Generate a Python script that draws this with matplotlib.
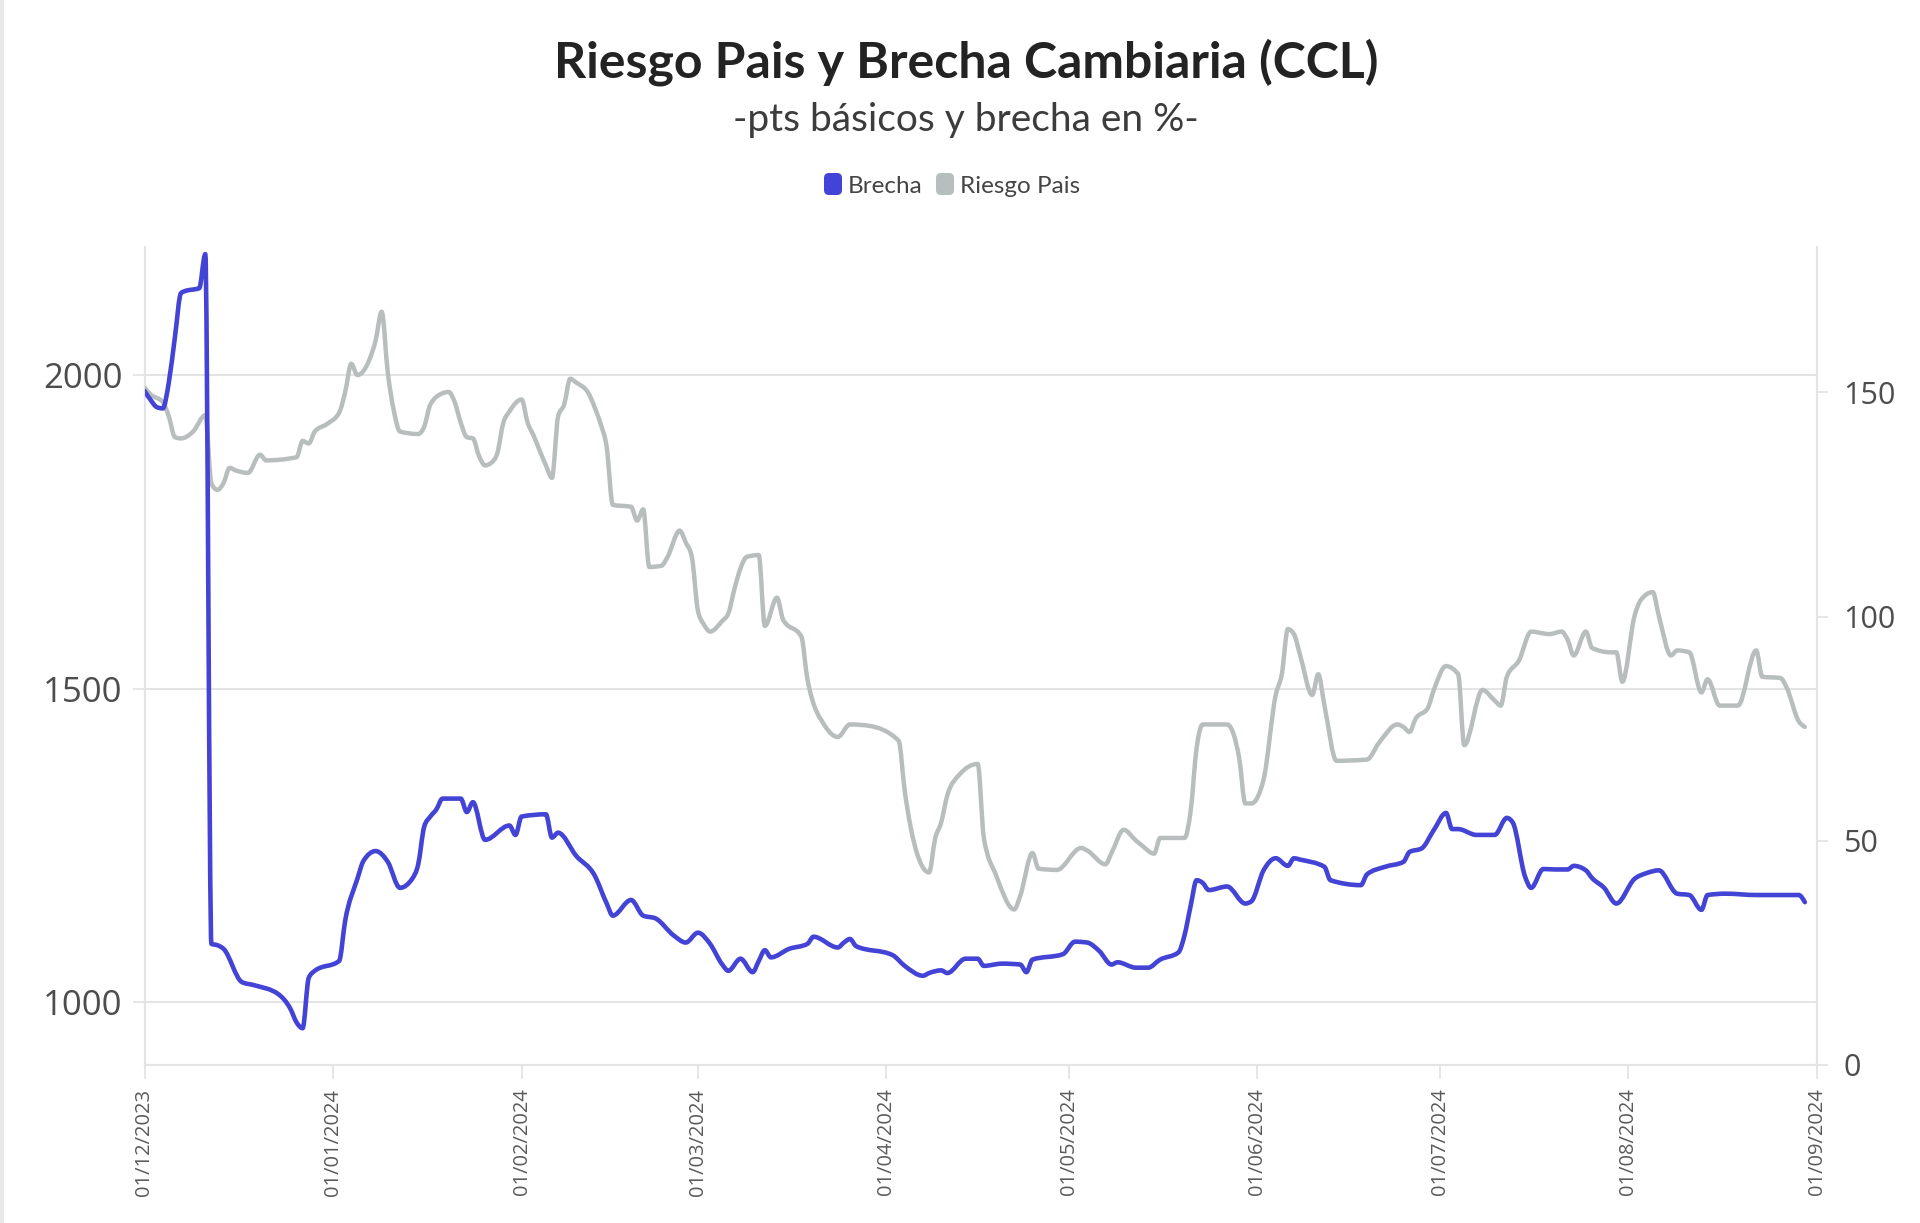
import matplotlib
matplotlib.use('Agg')
import matplotlib.pyplot as plt
import matplotlib.dates as mdates
from matplotlib.patches import FancyBboxPatch, PathPatch
from matplotlib.path import Path
import numpy as np
import pandas as pd

# ---------------- DATA ----------------
titulo = 'Riesgo Pais y Brecha Cambiaria (CCL)'
subtitulo = '-pts básicos y brecha en %-'
series_nombres = ['Brecha', 'Riesgo Pais']

riesgo_fechas = [
    '2023-12-01', '2023-12-02', '2023-12-04', '2023-12-05', '2023-12-06', '2023-12-07', '2023-12-09',
    '2023-12-11', '2023-12-12', '2023-12-13', '2023-12-14', '2023-12-15', '2023-12-16', '2023-12-18',
    '2023-12-20', '2023-12-21', '2023-12-26', '2023-12-27', '2023-12-28', '2023-12-29', '2023-12-31',
    '2024-01-02', '2024-01-03', '2024-01-04', '2024-01-05', '2024-01-07', '2024-01-08', '2024-01-09',
    '2024-01-10', '2024-01-11', '2024-01-12', '2024-01-15', '2024-01-16', '2024-01-17', '2024-01-19',
    '2024-01-20', '2024-01-21', '2024-01-22', '2024-01-23', '2024-01-24', '2024-01-25', '2024-01-26',
    '2024-01-27', '2024-01-28', '2024-01-29', '2024-01-30', '2024-02-01', '2024-02-02', '2024-02-03',
    '2024-02-04', '2024-02-05', '2024-02-06', '2024-02-07', '2024-02-08', '2024-02-09', '2024-02-10',
    '2024-02-12', '2024-02-13', '2024-02-14', '2024-02-15', '2024-02-16', '2024-02-19', '2024-02-20',
    '2024-02-21', '2024-02-22', '2024-02-24', '2024-02-25', '2024-02-27', '2024-02-28', '2024-02-29',
    '2024-03-01', '2024-03-02', '2024-03-03', '2024-03-05', '2024-03-06', '2024-03-07', '2024-03-08',
    '2024-03-09', '2024-03-11', '2024-03-12', '2024-03-14', '2024-03-15', '2024-03-18', '2024-03-19',
    '2024-03-22', '2024-03-24', '2024-03-26', '2024-03-29', '2024-04-03', '2024-04-04', '2024-04-06',
    '2024-04-08', '2024-04-09', '2024-04-10', '2024-04-11', '2024-04-13', '2024-04-16', '2024-04-17',
    '2024-04-19', '2024-04-22', '2024-04-23', '2024-04-25', '2024-04-26', '2024-04-29', '2024-05-03',
    '2024-05-04', '2024-05-07', '2024-05-08', '2024-05-10', '2024-05-12', '2024-05-13', '2024-05-15',
    '2024-05-16', '2024-05-20', '2024-05-21', '2024-05-22', '2024-05-23', '2024-05-27', '2024-05-29',
    '2024-05-30', '2024-05-31', '2024-06-02', '2024-06-04', '2024-06-05', '2024-06-06', '2024-06-07',
    '2024-06-08', '2024-06-10', '2024-06-11', '2024-06-12', '2024-06-14', '2024-06-19', '2024-06-21',
    '2024-06-24', '2024-06-25', '2024-06-26', '2024-06-27', '2024-06-29', '2024-06-30', '2024-07-02',
    '2024-07-04', '2024-07-05', '2024-07-08', '2024-07-10', '2024-07-11', '2024-07-12', '2024-07-14',
    '2024-07-16', '2024-07-19', '2024-07-21', '2024-07-22', '2024-07-23', '2024-07-25', '2024-07-26',
    '2024-07-29', '2024-07-30', '2024-07-31', '2024-08-02', '2024-08-03', '2024-08-05', '2024-08-06',
    '2024-08-08', '2024-08-09', '2024-08-11', '2024-08-13', '2024-08-14', '2024-08-16', '2024-08-19',
    '2024-08-22', '2024-08-23', '2024-08-26', '2024-08-27', '2024-08-29', '2024-08-30',
]
riesgo_valores = [
    1980, 1969, 1957, 1934, 1901, 1899, 1910,
    1936, 1827, 1817, 1828, 1852, 1848, 1844,
    1873, 1864, 1869, 1895, 1891, 1910, 1922,
    1940, 1973, 2018, 2000, 2025, 2055, 2101,
    2004, 1943, 1910, 1906, 1918, 1953, 1971,
    1973, 1957, 1924, 1901, 1899, 1871, 1856,
    1860, 1875, 1924, 1942, 1961, 1924, 1903,
    1879, 1856, 1836, 1934, 1953, 1994, 1988,
    1971, 1949, 1922, 1885, 1793, 1790, 1768,
    1786, 1694, 1696, 1710, 1752, 1733, 1710,
    1624, 1602, 1591, 1608, 1620, 1659, 1692,
    1710, 1713, 1600, 1645, 1610, 1583, 1515,
    1439, 1423, 1443, 1441, 1417, 1337, 1238,
    1207, 1261, 1287, 1330, 1363, 1380, 1263,
    1203, 1148, 1170, 1238, 1213, 1211, 1246,
    1242, 1220, 1238, 1275, 1258, 1250, 1237,
    1262, 1262, 1304, 1406, 1443, 1443, 1389,
    1317, 1317, 1355, 1490, 1523, 1595, 1587,
    1554, 1490, 1523, 1474, 1385, 1387, 1414,
    1443, 1439, 1431, 1452, 1469, 1498, 1536,
    1523, 1410, 1498, 1481, 1473, 1519, 1545,
    1591, 1587, 1591, 1578, 1553, 1591, 1565,
    1558, 1558, 1511, 1616, 1641, 1654, 1616,
    1553, 1561, 1558, 1494, 1515, 1473, 1473,
    1561, 1519, 1517, 1502, 1448, 1439,
]

brecha_fechas = [
    '2023-12-01', '2023-12-02', '2023-12-03', '2023-12-04', '2023-12-05', '2023-12-06', '2023-12-07',
    '2023-12-08', '2023-12-09', '2023-12-10', '2023-12-11', '2023-12-12', '2023-12-13', '2023-12-14',
    '2023-12-17', '2023-12-19', '2023-12-23', '2023-12-25', '2023-12-26', '2023-12-27', '2023-12-28',
    '2023-12-29', '2024-01-02', '2024-01-03', '2024-01-05', '2024-01-06', '2024-01-08', '2024-01-10',
    '2024-01-12', '2024-01-14', '2024-01-15', '2024-01-16', '2024-01-17', '2024-01-18', '2024-01-19',
    '2024-01-22', '2024-01-23', '2024-01-24', '2024-01-26', '2024-01-30', '2024-01-31', '2024-02-01',
    '2024-02-05', '2024-02-06', '2024-02-07', '2024-02-10', '2024-02-13', '2024-02-15', '2024-02-16',
    '2024-02-19', '2024-02-21', '2024-02-23', '2024-02-26', '2024-02-28', '2024-03-01', '2024-03-03',
    '2024-03-05', '2024-03-06', '2024-03-08', '2024-03-10', '2024-03-11', '2024-03-12', '2024-03-13',
    '2024-03-16', '2024-03-19', '2024-03-20', '2024-03-24', '2024-03-25', '2024-03-26', '2024-03-27',
    '2024-04-02', '2024-04-04', '2024-04-07', '2024-04-08', '2024-04-10', '2024-04-11', '2024-04-14',
    '2024-04-16', '2024-04-17', '2024-04-20', '2024-04-23', '2024-04-24', '2024-04-25', '2024-04-30',
    '2024-05-02', '2024-05-04', '2024-05-06', '2024-05-08', '2024-05-09', '2024-05-12', '2024-05-14',
    '2024-05-16', '2024-05-19', '2024-05-20', '2024-05-21', '2024-05-22', '2024-05-23', '2024-05-24',
    '2024-05-27', '2024-05-30', '2024-05-31', '2024-06-02', '2024-06-04', '2024-06-06', '2024-06-07',
    '2024-06-08', '2024-06-12', '2024-06-13', '2024-06-18', '2024-06-19', '2024-06-22', '2024-06-25',
    '2024-06-26', '2024-06-28', '2024-06-30', '2024-07-02', '2024-07-03', '2024-07-04', '2024-07-07',
    '2024-07-10', '2024-07-12', '2024-07-13', '2024-07-15', '2024-07-16', '2024-07-18', '2024-07-20',
    '2024-07-22', '2024-07-23', '2024-07-25', '2024-07-26', '2024-07-28', '2024-07-30', '2024-08-02',
    '2024-08-04', '2024-08-06', '2024-08-09', '2024-08-11', '2024-08-13', '2024-08-14', '2024-08-17',
    '2024-08-22', '2024-08-27', '2024-08-29', '2024-08-30',
]
brecha_valores = [
    150.3, 148.3, 146.7, 146.4, 152.2, 162.3, 172.1,
    172.7, 172.9, 173.2, 180.8, 27.0, 26.7, 25.9,
    18.5, 17.8, 15.8, 12.5, 9.5, 8.2, 19.4,
    21.0, 23.2, 32.2, 41.5, 45.5, 47.7, 45.3,
    39.5, 41.5, 44.7, 53.2, 55.4, 57.0, 59.4,
    59.4, 56.4, 58.6, 50.2, 53.4, 51.3, 55.4,
    55.9, 50.7, 51.8, 46.6, 42.3, 36.0, 33.3,
    36.8, 33.3, 32.7, 28.9, 27.3, 29.5, 27.0,
    22.4, 21.0, 23.7, 20.7, 23.2, 25.6, 24.0,
    25.9, 27.0, 28.6, 26.2, 27.3, 28.1, 26.5,
    24.5, 22.1, 19.9, 20.5, 21.1, 20.5, 23.7,
    23.7, 22.1, 22.6, 22.4, 20.7, 23.5, 24.7,
    27.5, 27.3, 25.4, 22.4, 22.9, 21.7, 21.7,
    23.5, 25.1, 28.9, 35.4, 41.2, 40.6, 39.0,
    39.8, 36.0, 36.5, 43.4, 46.1, 44.4, 46.1,
    45.8, 44.2, 41.2, 40.1, 42.5, 44.2, 45.3,
    47.5, 48.3, 52.4, 56.2, 52.6, 52.6, 51.3,
    51.3, 55.1, 54.0, 42.0, 39.5, 43.7, 43.6,
    43.6, 44.4, 43.4, 41.7, 39.5, 36.0, 41.5,
    42.8, 43.4, 38.2, 37.9, 34.6, 37.9, 38.2,
    37.9, 37.9, 37.9, 36.3,
]

ticks_izq = [1000, 1500, 2000]
ticks_der = [0, 50, 100, 150]
rango_izq = (900, 2205)
rango_der = (0, 182.5)
rango_x = ('2023-12-01', '2024-09-01')

# ---------------- STYLE ----------------
COL_BRECHA = '#4343d6'
COL_RIESGO = '#b8bdbd'
COL_AXIS = '#e4e4e4'
COL_TICKTXT = '#4d4d4d'


def monotone_path(x, y):
    """Smooth monotone-x cubic path (d3 curveMonotoneX style) through the data points."""
    x = np.asarray(x, float)
    y = np.asarray(y, float)
    n = len(x)
    h = np.diff(x)
    s = np.diff(y) / h
    t = np.zeros(n)
    for i in range(1, n - 1):
        h0, h1, s0, s1 = h[i - 1], h[i], s[i - 1], s[i]
        p = (s0 * h1 + s1 * h0) / (h0 + h1)
        t[i] = (np.sign(s0) + np.sign(s1)) * min(abs(s0), abs(s1), 0.5 * abs(p))
    t[0] = (3 * s[0] - t[1]) / 2
    t[-1] = (3 * s[-1] - t[-2]) / 2
    verts = [(x[0], y[0])]
    codes = [Path.MOVETO]
    for i in range(n - 1):
        dx = h[i] / 3
        verts += [(x[i] + dx, y[i] + dx * t[i]),
                  (x[i + 1] - dx, y[i + 1] - dx * t[i + 1]),
                  (x[i + 1], y[i + 1])]
        codes += [Path.CURVE4] * 3
    return Path(verts, codes)


W, H = 1920, 1223
fig = plt.figure(figsize=(W / 100, H / 100), dpi=100)
fig.patch.set_facecolor('white')

L, R, T, B = 144.5, 1817, 246.5, 1065
ax = fig.add_axes([L / W, 1 - B / H, (R - L) / W, (B - T) / H])
ax2 = ax.twinx()

rf = mdates.date2num(pd.to_datetime(riesgo_fechas))
bf = mdates.date2num(pd.to_datetime(brecha_fechas))

ax.add_patch(PathPatch(monotone_path(rf, riesgo_valores), fill=False,
                       edgecolor=COL_RIESGO, lw=3.2, joinstyle='round',
                       capstyle='round', zorder=3))
ax2.add_patch(PathPatch(monotone_path(bf, brecha_valores), fill=False,
                        edgecolor=COL_BRECHA, lw=3.3, joinstyle='round',
                        capstyle='round', zorder=3))

ax.xaxis_date()
ax.set_xlim(mdates.date2num(pd.Timestamp(rango_x[0])), mdates.date2num(pd.Timestamp(rango_x[1])))
ax.set_ylim(*rango_izq)
ax2.set_ylim(*rango_der)

ax.set_yticks(ticks_izq)
ax2.set_yticks(ticks_der)
ax.grid(axis='y', color=COL_AXIS, lw=1.4)
ax.grid(axis='x', visible=False)
ax.set_axisbelow(True)

ax.xaxis.set_major_locator(mdates.MonthLocator())
ax.xaxis.set_major_formatter(mdates.DateFormatter('%d/%m/%Y'))

for a in (ax, ax2):
    a.spines['top'].set_visible(False)
    a.set_facecolor('none')
ax.spines['right'].set_visible(False)
ax2.spines['left'].set_visible(False)
ax2.spines['bottom'].set_visible(False)
for s in (ax.spines['left'], ax.spines['bottom'], ax2.spines['right']):
    s.set_color(COL_AXIS)
    s.set_linewidth(1.6)

ax.tick_params(axis='y', length=9, width=1.3, color=COL_AXIS, labelsize=25,
               labelcolor=COL_TICKTXT, pad=7)
ax2.tick_params(axis='y', length=8, width=1.3, color=COL_AXIS, labelsize=22,
                labelcolor=COL_TICKTXT, pad=11)
ax.tick_params(axis='x', length=10, width=1.3, color=COL_AXIS, labelsize=14.5,
               labelcolor='#5a5a5a', pad=7, labelrotation=90)
for lab in ax.get_yticklabels() + ax2.get_yticklabels() + ax.get_xticklabels():
    lab.set_family('Open Sans')

# ---------------- TITLES & LEGEND (pixel overlay) ----------------
ov = fig.add_axes([0, 0, 1, 1], zorder=10)
ov.set_xlim(0, W)
ov.set_ylim(H, 0)
ov.axis('off')
ov.patch.set_alpha(0)

ov.plot([2, 2], [0, H], color='#e9e9e9', lw=3)

ov.text(966, 77, titulo, ha='center', va='baseline', fontsize=36,
        fontweight='bold', family='Lato', color='#232323')
ov.text(966, 131, subtitulo, ha='center', va='baseline', fontsize=28,
        family='Lato', color='#3c3c3c')

leg = [(824, COL_BRECHA, series_nombres[0]), (936, COL_RIESGO, series_nombres[1])]
for x0, col, name in leg:
    ov.add_patch(FancyBboxPatch((x0 + 3, 176), 12, 16,
                                boxstyle='round,pad=3,rounding_size=5',
                                fc=col, ec='none'))
    ov.text(x0 + 24, 193, name, ha='left', va='baseline', fontsize=17.5,
            family='Lato', color='#454545')

fig.savefig('out.png', dpi=100, facecolor='white')
